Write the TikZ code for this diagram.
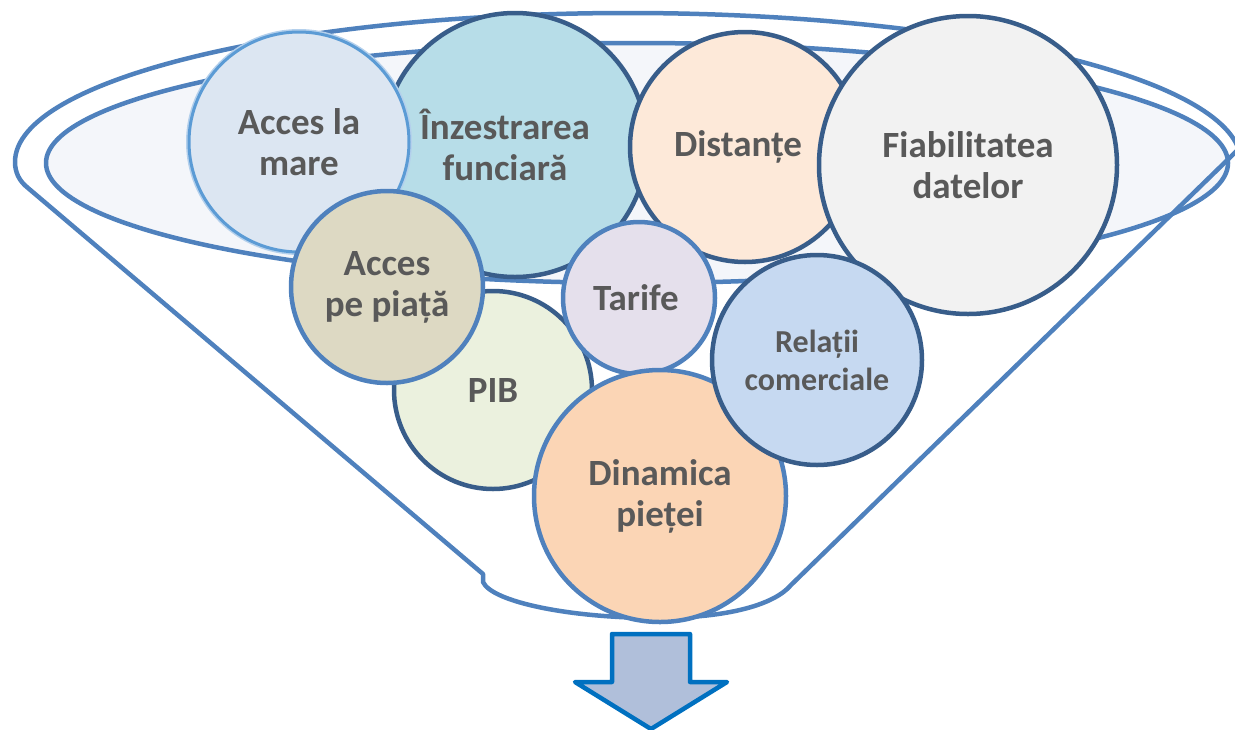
\documentclass[tikz,border=0pt]{standalone}
\usepackage{fontspec}
\setmainfont{Carlito}
\definecolor{funnelblue}{HTML}{4F81BD}
\definecolor{darkrim}{HTML}{385D8A}
\definecolor{lightrim}{HTML}{5B9BD5}
\definecolor{glow}{HTML}{B4D0EC}
\definecolor{innerfill}{HTML}{F4F6FA}
\definecolor{txtgray}{HTML}{595959}
\definecolor{arrowline}{HTML}{0070C0}
\definecolor{arrowfill}{HTML}{B0BFDA}
\definecolor{fInz}{HTML}{B7DDE8}
\definecolor{fMare}{HTML}{DCE6F2}
\definecolor{fDist}{HTML}{FDE9D9}
\definecolor{fFiab}{HTML}{F2F2F2}
\definecolor{fPib}{HTML}{EBF1DE}
\definecolor{fPiata}{HTML}{DDD9C3}
\definecolor{fTarife}{HTML}{E5E0EC}
\definecolor{fDin}{HTML}{FBD5B5}
\definecolor{fRel}{HTML}{C6D9F1}
\begin{document}
\begin{tikzpicture}[x=1pt,y=-1pt,
  funnel/.style={draw=funnelblue, line width=4.5pt, line join=round},
  bubble/.style={circle, inner sep=0pt, line width=4.5pt, align=center,
    text=txtgray, font=\fontsize{37}{41}\selectfont\bfseries},
  darkb/.style={bubble, draw=darkrim},
  lightb/.style={bubble, draw=funnelblue},
  arrowshape/.style={draw=arrowline, fill=arrowfill, line width=4.5pt, line join=round}
]
\useasboundingbox (0,0) rectangle (1235,729);

% inner rim of the funnel
\draw[funnel, fill=innerfill] (637,163) ellipse [x radius=591, y radius=120];

% outer rim and cone
\draw[funnel] (483,574) -- (28,188) .. controls (19,181) and (15,172) .. (15,162)
  arc[start angle=180, end angle=355, x radius=613, y radius=149]
  -- (791,585) .. controls (775,604) and (730,618) .. (657,618)
  .. controls (570,618) and (492,602) .. (483,582) -- cycle;

% bubbles
\node[darkb, fill=fInz, minimum size=264pt] (inz) at (515,145) {\hspace*{-20pt}Înzestrarea\\\hspace*{-20pt}funciară};
\fill[glow] (299,142) circle[radius=113];
\node[bubble, draw=lightrim, line width=3pt, fill=fMare, minimum size=220pt] (mare) at (299,142) {Acces la\\mare};
\node[darkb, fill=fDist, minimum size=230pt] (dist) at (745,147) {\hspace*{-14pt}Distanțe};
\node[darkb, fill=fFiab, minimum size=298pt] (fiab) at (968,165) {Fiabilitatea\\datelor};
\node[darkb, fill=fPib, minimum size=198pt] (pib) at (493,390) {PIB};
\node[lightb, fill=fPiata, minimum size=192pt] (piata) at (387,287) {Acces\\pe piață};
\node[lightb, fill=fTarife, minimum size=152pt] (tarife) at (639,298) {\hspace*{-6pt}Tarife};
\node[lightb, fill=fDin, minimum size=252pt] (din) at (660,496) {Dinamica\\pieței};
\node[darkb, fill=fRel, minimum size=210pt, font=\fontsize{32}{38}\selectfont\bfseries] (rel) at (817,360) {Relații\\comerciale};

% output arrow
\draw[arrowshape] (612,634) -- (690,634) -- (690,682) -- (727,682) -- (651,729)
  -- (575,682) -- (612,682) -- cycle;
\end{tikzpicture}
\end{document}
